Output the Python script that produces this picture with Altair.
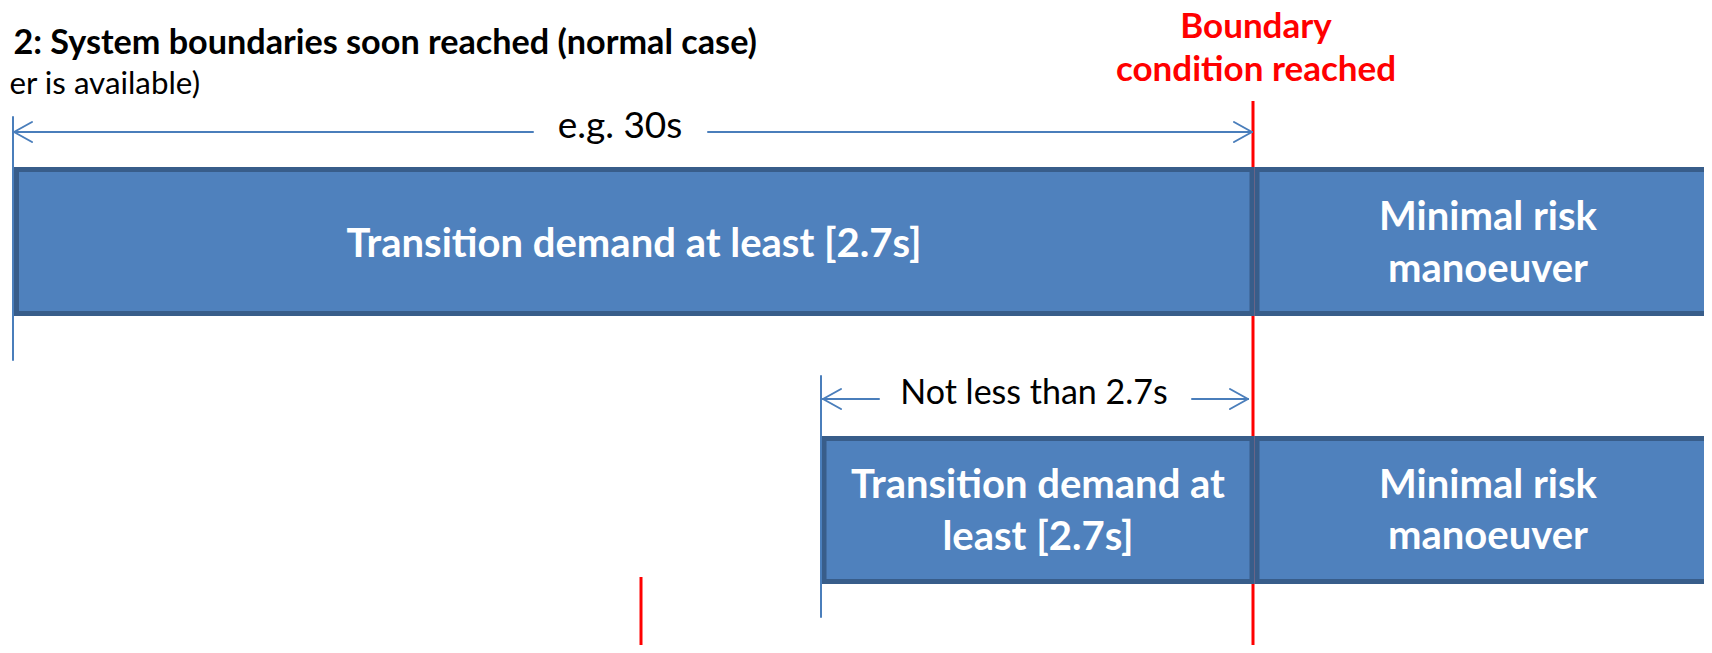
import altair as alt
import pandas as pd

# ---- canvas (diagram units = reference pixels; page has an 8px margin) ----
W, H = 1696, 637
XDOM = [8, 8 + W]
YDOM = [8, 8 + H]

# ---- blocks (timeline phases) ----
box_label = ["Transition demand at least [2.7s]", "Minimal risk manoeuver",
             "Transition demand at least [2.7s]", "Minimal risk manoeuver"]
box_start = [16.5, 1257, 824, 1257]
box_end = [1252, 1780, 1252, 1780]
box_top = [169.5, 169.5, 438.5, 438.5]
box_bottom = [313.5, 313.5, 581.5, 581.5]

# ---- line segments ----
seg_x1 = [1253, 641, 13, 821,
          14, 708, 14, 14, 1252, 1252,
          823, 1192, 823, 823, 1248, 1248]
seg_y1 = [101, 577, 117, 376,
          132, 132, 132, 132, 132, 132,
          399, 399, 399, 399, 399, 399]
seg_x2 = [1253, 641, 13, 821,
          533, 1252, 32, 32, 1234, 1234,
          879, 1248, 841, 841, 1230, 1230]
seg_y2 = [660, 647, 360, 617,
          132, 132, 122, 142, 122, 142,
          399, 399, 389, 409, 389, 409]
seg_kind = ["boundary", "boundary", "marker", "marker",
            "arrow", "arrow", "arrow", "arrow", "arrow", "arrow",
            "arrow", "arrow", "arrow", "arrow", "arrow", "arrow"]

# ---- texts ----
title_text = ["2: System boundaries soon reached (normal case)", "er is available)"]
title_x = [757, 200]
title_y = [54, 94]

red_text = ["Boundary", "condition reached"]
red_x = [1256, 1256]
red_y = [38, 81]

dim_text = ["e.g. 30s", "Not less than 2.7s"]
dim_x = [620, 1034]
dim_y = [138, 404]

box_text = ["Transition demand at least [2.7s]", "Minimal risk", "manoeuver",
            "Transition demand at", "least [2.7s]", "Minimal risk", "manoeuver"]
box_text_x = [634, 1488, 1488, 1038, 1038, 1488, 1488]
box_text_y = [257, 230, 282, 498, 550, 498, 549]

seg_color = {"boundary": "#FF0000", "marker": "#4A7EBB", "arrow": "#4A7EBB"}
seg_width = {"boundary": 3, "marker": 2, "arrow": 2}

boxes = pd.DataFrame({"label": box_label, "x1": box_start, "x2": box_end,
                      "y1": box_top, "y2": box_bottom})
segs = pd.DataFrame({"x1": seg_x1, "y1": seg_y1, "x2": seg_x2, "y2": seg_y2,
                     "kind": seg_kind})
segs["color"] = segs["kind"].map(seg_color)
segs["w"] = segs["kind"].map(seg_width)

xs = alt.Scale(domain=XDOM, zero=False, nice=False)
ys = alt.Scale(domain=YDOM, zero=False, nice=False, reverse=True)

def X(f):
    return alt.X(f, scale=xs, axis=None)

def Y(f):
    return alt.Y(f, scale=ys, axis=None)

red_rules = alt.Chart(segs[segs.kind == "boundary"]).mark_rule(strokeCap="butt").encode(
    x=X("x1:Q"), x2="x2:Q", y=Y("y1:Q"), y2="y2:Q",
    color=alt.Color("color:N", scale=None), strokeWidth=alt.StrokeWidth("w:Q", scale=None))

rects = alt.Chart(boxes).mark_rect(fill="#4F81BD", stroke="#385D8A", strokeWidth=5, clip=True).encode(
    x=X("x1:Q"), x2="x2:Q", y=Y("y1:Q"), y2="y2:Q")

blue_rules = alt.Chart(segs[segs.kind != "boundary"]).mark_rule(strokeCap="round").encode(
    x=X("x1:Q"), x2="x2:Q", y=Y("y1:Q"), y2="y2:Q",
    color=alt.Color("color:N", scale=None), strokeWidth=alt.StrokeWidth("w:Q", scale=None))

def text_layer(texts, xs_, ys_, size, weight, color, align):
    df = pd.DataFrame({"t": texts, "x": xs_, "y": ys_})
    return alt.Chart(df).mark_text(align=align, baseline="alphabetic", font="Lato",
                                   fontSize=size, fontWeight=weight, color=color).encode(
        x=X("x:Q"), y=Y("y:Q"), text="t:N")

t_title1 = text_layer(title_text[:1], title_x[:1], title_y[:1], 34.2, "bold", "#000000", "right")
t_title2 = text_layer(title_text[1:], title_x[1:], title_y[1:], 31.3, "normal", "#000000", "right")
t_red = text_layer(red_text, red_x, red_y, 35, "bold", "#FF0000", "center")
t_eg = text_layer(dim_text[:1], dim_x[:1], dim_y[:1], 37, "normal", "#000000", "center")
t_nl = text_layer(dim_text[1:], dim_x[1:], dim_y[1:], 34, "normal", "#000000", "center")
t_box = text_layer(box_text, box_text_x, box_text_y, 40, "bold", "#FFFFFF", "center")

chart = alt.layer(red_rules, rects, blue_rules, t_title1, t_title2, t_red, t_eg, t_nl, t_box).properties(
    width=W, height=H, padding=0, autosize=alt.AutoSizeParams(type="none")
).configure_view(stroke=None)

chart.save("out.html", embed_options={"renderer": "svg", "actions": False})
